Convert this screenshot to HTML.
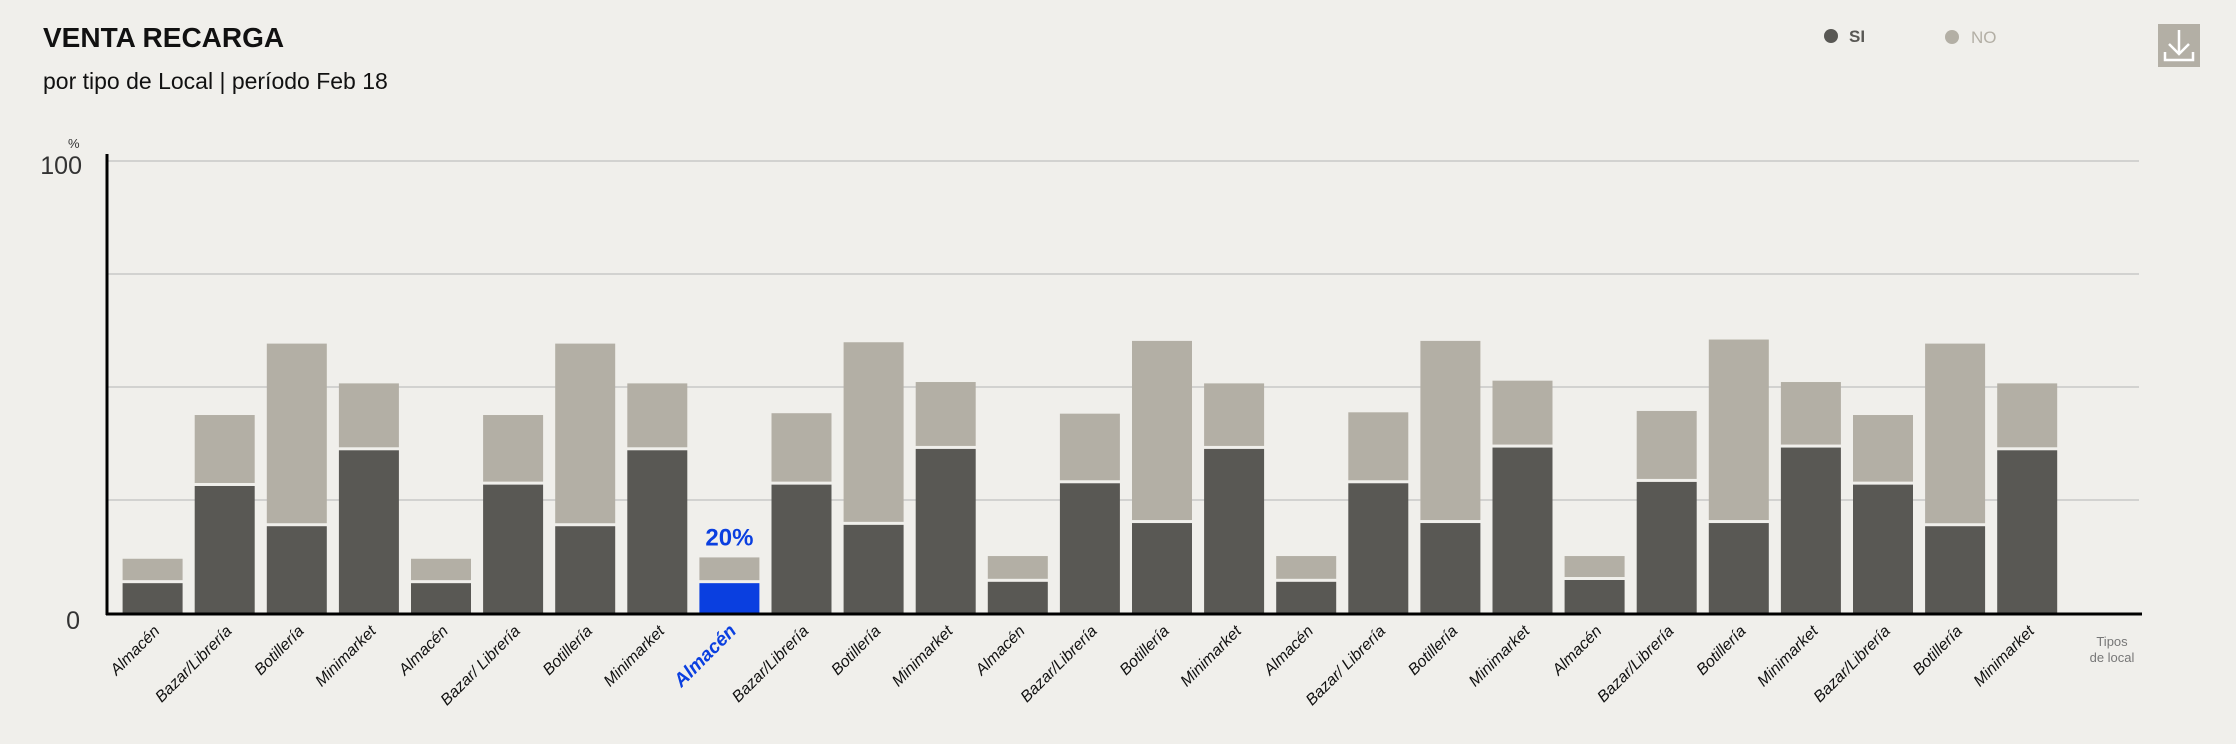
<!DOCTYPE html>
<html><head><meta charset="utf-8"><style>
html,body{margin:0;padding:0;background:#f0efeb;}
svg{display:block;font-family:"Liberation Sans",sans-serif;}
</style></head><body>
<svg id="chart" width="2236" height="744" viewBox="0 0 2236 744">
<rect x="0" y="0" width="2236" height="744" fill="#f0efeb"/>
<text x="43" y="47" font-size="28" font-weight="bold" fill="#111">VENTA RECARGA</text>
<text x="43" y="89" font-size="23" fill="#111">por tipo de Local  | período Feb 18</text>
<g><circle cx="1831" cy="36" r="7" fill="#595854"/><text x="1849" y="42" font-size="17" font-weight="bold" fill="#595854">SI</text></g>
<g><circle cx="1952" cy="37" r="7" fill="#b3afa5"/><text x="1971" y="43" font-size="17" fill="#b3afa5">NO</text></g>
<g>
<rect x="2158" y="24" width="42" height="43" fill="#b3afa5"/>
<path d="M2179 30 V54 M2169 44 L2179 54 L2189 44 M2165 52 V60 H2193 V52" stroke="#fff" stroke-width="2.5" fill="none"/>
</g>
<text x="68" y="148" font-size="13" fill="#333">%</text>
<g id="grid"></g>
<g id="bars"></g>
<g id="labels"></g>
<line x1="107" y1="154" x2="107" y2="615" stroke="#000" stroke-width="3"/>
<line x1="106" y1="614" x2="2142" y2="614" stroke="#000" stroke-width="3"/>
<text x="2112" y="646" font-size="13" fill="#777" text-anchor="middle"><tspan x="2112">Tipos</tspan><tspan x="2112" dy="16">de local</tspan></text>
</svg>
<script>
const categories = ["Almacén","Bazar/Librería","Botillería","Minimarket","Almacén","Bazar/ Librería","Botillería","Minimarket","Almacén","Bazar/Librería","Botillería","Minimarket","Almacén","Bazar/Librería","Botillería","Minimarket","Almacén","Bazar/ Librería","Botillería","Minimarket","Almacén","Bazar/Librería","Botillería","Minimarket","Bazar/Librería","Botillería","Minimarket"];
const siValues = [6.6,28.1,19.2,36.0,6.6,28.4,19.2,36.0,6.6,28.4,19.5,36.3,6.9,28.7,19.9,36.3,6.9,28.7,19.9,36.6,7.3,29.0,19.9,36.6,28.4,19.2,36.0];
const noValues = [5.4,15.7,40.4,14.8,5.4,15.4,40.4,14.8,5.7,15.8,40.4,14.8,5.7,15.4,40.3,14.5,5.7,15.7,40.3,14.8,5.3,15.7,40.6,14.5,15.4,40.4,14.8];
const yTicks = [0,25,50,75,100];
const yTickLabels = ["0","","","","100"];
const highlightIndex = 8;
const highlightLabel = "20%";

const NS="http://www.w3.org/2000/svg";
const y0=613, y100=161, x0=122.6, pitch=72.1, bw=60;
const yScale=v=>y0-(y0-y100)*v/100;
const xScale=i=>x0+i*pitch;
function mk(tag,attrs,parent){const e=document.createElementNS(NS,tag);for(const k in attrs)e.setAttribute(k,attrs[k]);parent.appendChild(e);return e;}
const grid=document.getElementById('grid'),bars=document.getElementById('bars'),labels=document.getElementById('labels');
yTicks.forEach((t,i)=>{
  if(t>0){const l=mk('line',{x1:107,x2:2139,y1:yScale(t),y2:yScale(t),stroke:'#c8c8c8','stroke-width':1.5},grid);
  
  }
  if(yTickLabels[i]){const tx=mk('text',{x:t===0?80:82,y:yScale(t)+(t===0?16:13),'font-size':25,fill:'#333','text-anchor':'end'},grid);
  tx.textContent=yTickLabels[i];
  
  }
});
categories.forEach((c,i)=>{
  const x=xScale(i), hl=i===highlightIndex;
  const ySi=yScale(siValues[i]), yTot=yScale(siValues[i]+noValues[i]);
  const rNo=mk('rect',{x:x,y:yTot,width:bw,height:Math.max(0,ySi-yTot-3),fill:'#b3afa5'},bars);
  
  
  const rSi=mk('rect',{x:x,y:ySi,width:bw,height:y0-ySi,fill:hl?'#0a3fe0':'#595854'},bars);
  
  
  if(hl){const v=mk('text',{x:x+bw/2,y:yTot-12,'font-size':24,'font-weight':'bold',fill:'#0a3fe0','text-anchor':'middle'},bars);
  v.textContent=highlightLabel;
  
  }
  const lx=x+bw/2+8, ly=632;
  const t=mk('text',{x:lx,y:ly,'font-size':hl?19:16,'font-style':'italic','font-weight':hl?'bold':'normal',fill:hl?'#0a3fe0':'#111','text-anchor':'end',transform:`rotate(-45 ${lx} ${ly})`},labels);
  t.textContent=c;
  
  
});
</script>
</body></html>
